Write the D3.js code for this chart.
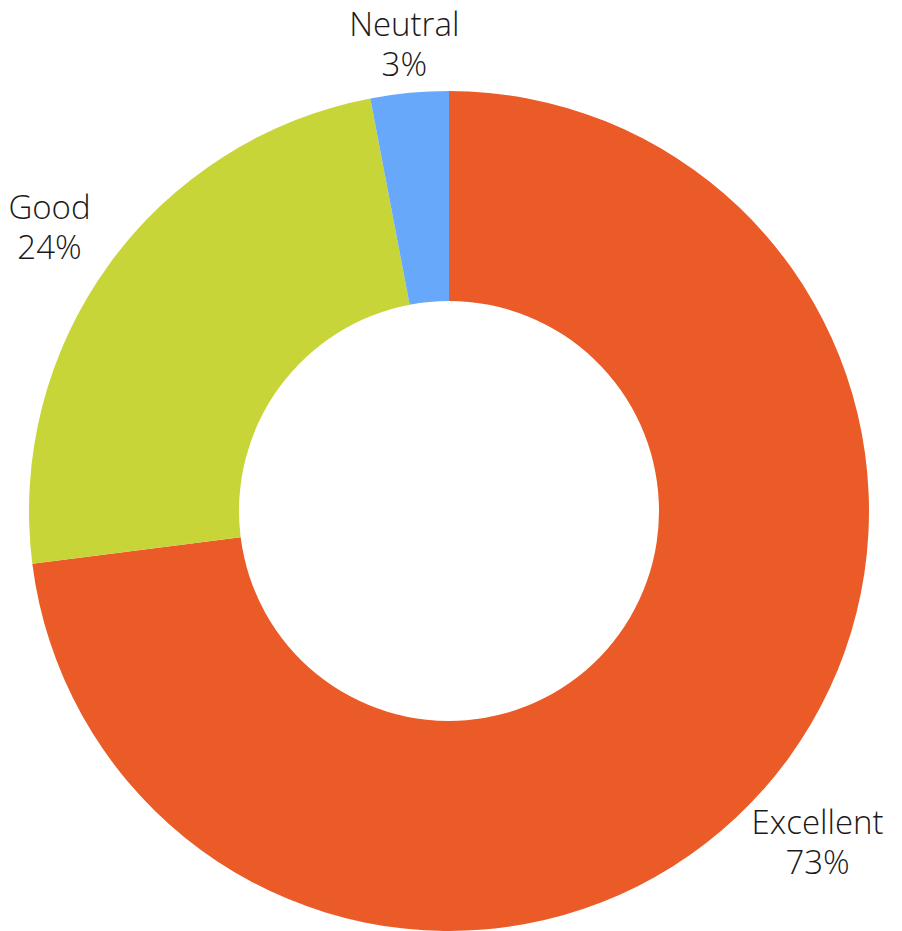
<!DOCTYPE html>
<html>
<head>
<meta charset="utf-8">
<script src="https://cdn.jsdelivr.net/npm/d3@7"></script>
<style>
  body { margin: 0; background: #fff; }
  svg text { font-family: "Open Sans", sans-serif; font-weight: 300; font-size: 33px; fill: #1a1a1a; }
</style>
</head>
<body>
<svg id="chart" width="902" height="931"></svg>
<script>
// slice data, clockwise from 12 o'clock
var categories = ["Excellent", "Good", "Neutral"];
var values = [73, 24, 3];
var colors = ["#EB5B27", "#C8D539", "#68A8FA"];

var cx = 449, cy = 511;
var outerR = 420, innerR = 210;

var svg = d3.select("#chart");
var g = svg.append("g").attr("transform", "translate(" + cx + "," + cy + ")");

var pie = d3.pie().sort(null).value(function(d){ return d; });
var arcs = pie(values);
var arc = d3.arc().innerRadius(innerR).outerRadius(outerR);

g.selectAll("path.slice")
  .data(arcs)
  .enter()
  .append("path")
  .attr("class", "slice")
  .attr("d", arc)
  .attr("fill", function(d, i){ return colors[i]; });

// labels: the text box just touches a circle outside the ring
var anchorR = 443;
var lineH = 40;
var labels = g.selectAll("text.lbl")
  .data(arcs)
  .enter()
  .append("text")
  .attr("class", "lbl")
  .attr("text-anchor", "middle");

labels.append("tspan").attr("x", 0).attr("y", 0).text(function(d, i){ return categories[i]; });
labels.append("tspan").attr("x", 0).attr("y", lineH).text(function(d){ return d.value + "%"; });

labels.each(function(d){
  var bb = this.getBBox();
  var a = (d.startAngle + d.endAngle) / 2;
  var sx = Math.sin(a), sy = -Math.cos(a);
  // visible block: cap top to second baseline
  var capTop = -24, hh = (lineH - capTop) / 2, hw = bb.width / 2;
  var push = Math.min(Math.abs(sx) > 1e-6 ? hw / Math.abs(sx) : Infinity,
                      Math.abs(sy) > 1e-6 ? hh / Math.abs(sy) : Infinity);
  var r = anchorR + push;
  var ox = r * sx - (bb.x + hw);
  var oy = r * sy - (capTop + hh) + 6;
  d3.select(this).attr("transform", "translate(" + ox + "," + oy + ")");
});
</script>
</body>
</html>
